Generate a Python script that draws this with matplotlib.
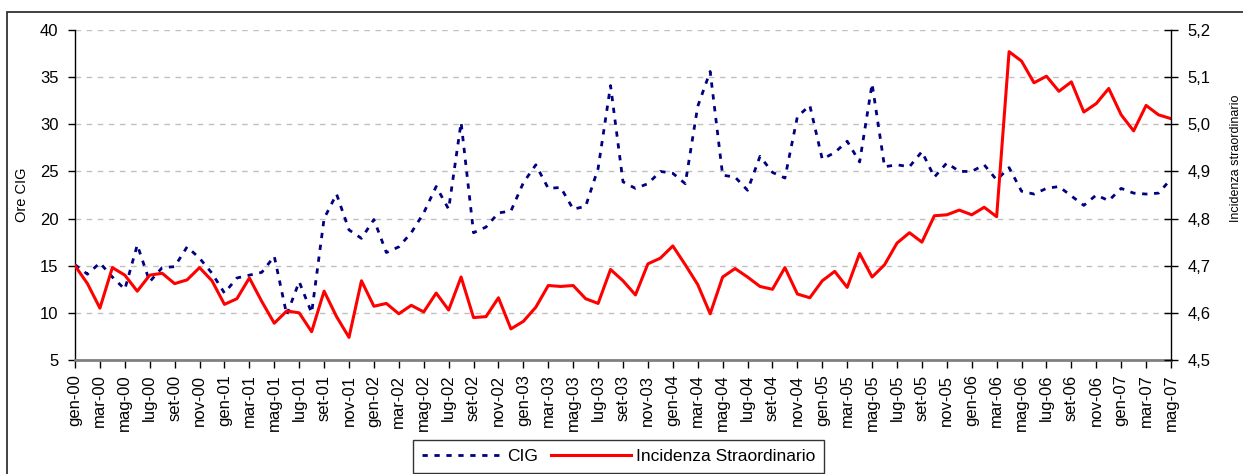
import numpy as np
import matplotlib
matplotlib.use('Agg')
from matplotlib import pyplot as plt
from matplotlib.patches import Rectangle
from matplotlib.ticker import FuncFormatter

plt.rcParams['font.family'] = ['Liberation Sans', 'DejaVu Sans']

# mesi da gen-00 a mag-07
mesi = ['gen', 'feb', 'mar', 'apr', 'mag', 'giu', 'lug', 'ago', 'set', 'ott', 'nov', 'dic']
anni = ['00', '01', '02', '03', '04', '05', '06', '07']
periodi = [m + '-' + a for a in anni for m in mesi][:89]

# Ore CIG (asse sinistro)
cig = [15.1, 14.1, 15.3, 13.8, 12.5, 17.2, 13.3, 14.8, 14.9, 17.0,
       15.8, 14.2, 12.1, 13.7, 14.0, 14.3, 16.0, 9.8, 13.3, 10.0,
       20.0, 22.6, 18.8, 17.9, 19.9, 16.4, 17.0, 18.5, 20.6, 23.4,
       21.0, 30.2, 18.5, 19.1, 20.6, 20.8, 23.8, 25.7, 23.2, 23.3,
       21.0, 21.3, 25.3, 34.1, 23.9, 23.2, 23.7, 25.0, 24.8, 23.7,
       31.9, 35.6, 24.6, 24.4, 23.0, 26.6, 24.9, 24.3, 30.8, 32.0,
       26.3, 27.0, 28.2, 26.0, 34.3, 25.5, 25.7, 25.5, 27.1, 24.4,
       25.9, 25.0, 25.0, 25.7, 24.1, 25.4, 22.9, 22.6, 23.2, 23.4,
       22.4, 21.4, 22.5, 21.9, 23.2, 22.7, 22.6, 22.7, 24.2]

# Incidenza straordinario (asse destro)
straord = [4.700, 4.662, 4.610, 4.696, 4.680, 4.646, 4.680, 4.684, 4.662, 4.670,
           4.696, 4.668, 4.618, 4.630, 4.674, 4.624, 4.578, 4.604, 4.600, 4.560,
           4.646, 4.592, 4.548, 4.668, 4.614, 4.620, 4.598, 4.616, 4.602, 4.642,
           4.606, 4.676, 4.590, 4.592, 4.632, 4.566, 4.582, 4.612, 4.658, 4.656,
           4.658, 4.630, 4.620, 4.692, 4.668, 4.638, 4.704, 4.716, 4.742, 4.702,
           4.660, 4.598, 4.676, 4.694, 4.676, 4.656, 4.650, 4.696, 4.640, 4.632,
           4.668, 4.688, 4.654, 4.726, 4.676, 4.702, 4.748, 4.770, 4.750, 4.806,
           4.808, 4.818, 4.808, 4.824, 4.804, 5.154, 5.134, 5.088, 5.102, 5.070,
           5.090, 5.026, 5.044, 5.076, 5.020, 4.986, 5.040, 5.020, 5.012]

W, H = 1243, 474
fig = plt.figure(figsize=(W / 100, H / 100), dpi=100)
ax = fig.add_axes([75 / W, 1 - 360 / H, (1171 - 75) / W, 330 / H])

x = np.arange(len(periodi))
ax.plot(x, cig, color='#000080', lw=2.0, ls=(0, (1.9, 2.4)), label='CIG', zorder=3)
ax.set_xlim(0, len(periodi) - 1)
ax.set_ylim(5, 40)
ax.set_yticks(range(5, 41, 5))
ax.grid(axis='y', color='#c0c0c0', ls=(0, (4, 4)), lw=1)
ax.set_axisbelow(True)
ax.set_xticks(x[::2])
ax.set_xticklabels(periodi[::2])

ax2 = ax.twinx()
ax2.plot(x, straord, color='#ff0000', lw=2.2, label='Incidenza Straordinario')
ax2.set_ylim(4.5, 5.2)
ax2.set_yticks(np.arange(4.5, 5.21, 0.1))
ax2.yaxis.set_major_formatter(FuncFormatter(lambda v, p: ('%.1f' % v).replace('.', ',')))

for s in ['top', 'right']:
    ax.spines[s].set_visible(False)
for s in ['top', 'left', 'bottom']:
    ax2.spines[s].set_visible(False)
ax.spines['bottom'].set_color('#808080')
ax.spines['bottom'].set_linewidth(2)
ax.spines['left'].set_linewidth(1)
ax2.spines['right'].set_linewidth(1)

ax.tick_params(axis='y', direction='out', length=5, width=1, labelsize=12, pad=7)
ax.tick_params(axis='x', direction='out', length=5.5, width=1, labelsize=12,
               labelrotation=90, pad=5)
ax2.tick_params(axis='y', direction='inout', length=9.5, width=1, labelsize=12, pad=7)

fig.text(21.5 / W, 1 - 195 / H, 'Ore CIG', rotation=90, ha='center', va='center',
         fontsize=10.5)
# nel riferimento l'etichetta destra tocca il bordo: la tengo appena dentro
fig.text(1242 / W, 1 - 158.5 / H, 'Incidenza straordinario', rotation=90,
         ha='right', va='center', fontsize=9)

h1, l1 = ax.get_legend_handles_labels()
h2, l2 = ax2.get_legend_handles_labels()
leg = fig.legend(h1 + h2, l1 + l2, loc='upper left', bbox_to_anchor=(413 / W, 1 - 440 / H),
                 ncol=2, frameon=True, fancybox=False, edgecolor='black', fontsize=12.5,
                 handlelength=4.6, handletextpad=0.3, columnspacing=0.75,
                 borderpad=0.5, borderaxespad=0)
leg.get_frame().set_linewidth(1.0)

# cornice esterna del grafico
fig.add_artist(Rectangle((7 / W, -0.05), 1.0, 1.05 - 11.7 / H, transform=fig.transFigure,
                         fill=False, edgecolor='#333333', lw=1.3))

fig.savefig('out.png', dpi=100)
